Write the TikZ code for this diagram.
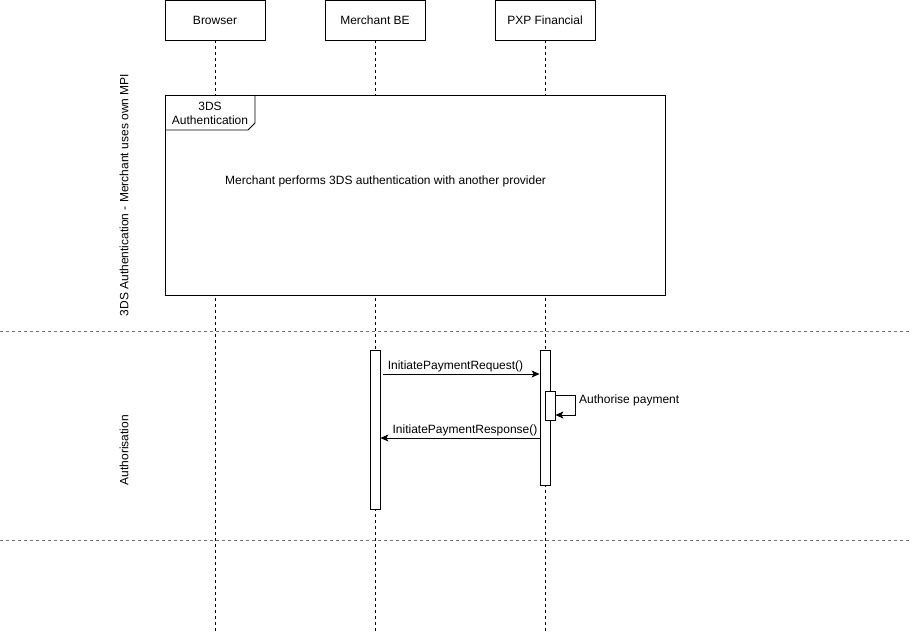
\documentclass[tikz,border=0pt]{standalone}
\usepackage{fontspec}
\setmainfont{Liberation Sans}
\usetikzlibrary{arrows.meta}
\begin{document}
\begin{tikzpicture}[x=1pt,y=-1pt,
  actor/.style={draw,line width=0.8pt,minimum width=100pt,minimum height=40pt,inner sep=0pt,font=\fontsize{12}{14}\selectfont},
  lifeline/.style={line width=0.8pt,dash pattern=on 3pt off 3pt},
  act/.style={draw,fill=white,line width=0.8pt,minimum width=10pt,inner sep=0pt},
  msg/.style={line width=0.8pt,-{Stealth[length=8pt,width=7pt,inset=2pt]}},
  sep/.style={draw=black!55,line width=0.8pt,dash pattern=on 3pt off 3pt},
  lbl/.style={font=\fontsize{12}{14}\selectfont,inner sep=1pt}
]
\useasboundingbox (0,0) rectangle (912,636);
% actors
\node[actor] (browser) at (215,20) {Browser};
\node[actor] (merchant) at (375,20) {Merchant BE};
\node[actor] (pxp) at (545,20) {PXP Financial};
\coordinate (bEnd) at (215,631);
\coordinate (mEnd) at (375,631);
\coordinate (pEnd) at (545,631);
\draw[lifeline] (browser.south) -- (bEnd);
\draw[lifeline] (merchant.south) -- (mEnd);
\draw[lifeline] (pxp.south) -- (pEnd);
% frame
\node[draw,line width=0.8pt,fill=white,minimum width=500pt,minimum height=200pt,inner sep=0pt] (frame) at (415,195) {};
\draw[line width=0.8pt] (255,95) -- (255,123) -- (248,130) -- (165,130);
\node[lbl,align=center] (flabel) at (210,113) {3DS\\Authentication};
\node[lbl,anchor=west] (ftext) at (224,181) {Merchant performs 3DS authentication with another provider};
% separators
\coordinate (s1l) at (0,331);
\coordinate (s1r) at (912,331);
\coordinate (s2l) at (0,540);
\coordinate (s2r) at (912,540);
\draw[sep] (s1l) -- (s1r);
\draw[sep] (s2l) -- (s2r);
% section labels
\node[lbl,rotate=90] (sec1) at (124,195) {3DS Authentication - Merchant uses own MPI};
\node[lbl,rotate=90] (sec2) at (124,450) {Authorisation};
% activations
\node[act,minimum height=159pt] (mact) at (375,429.5) {};
\node[act,minimum height=135pt] (pact) at (545,417.5) {};
\node[act,minimum height=29pt] (sact) at (550,405.5) {};
% messages
\draw[msg] ([xshift=3pt]mact.east |- 0,374) -- node[lbl,above=1pt,xshift=-6pt] {InitiatePaymentRequest()} (pact.west |- 0,374);
\draw[msg] (sact.east |- 0,395) -- (575,395) -- (575,415) -- (sact.east |- 0,415);
\node[lbl,anchor=west] (selfl) at (578,400) {Authorise payment};
\draw[msg] (pact.west |- 0,438) -- node[lbl,above=1pt,xshift=5pt] {InitiatePaymentResponse()} (mact.east |- 0,438);
\end{tikzpicture}
\end{document}
